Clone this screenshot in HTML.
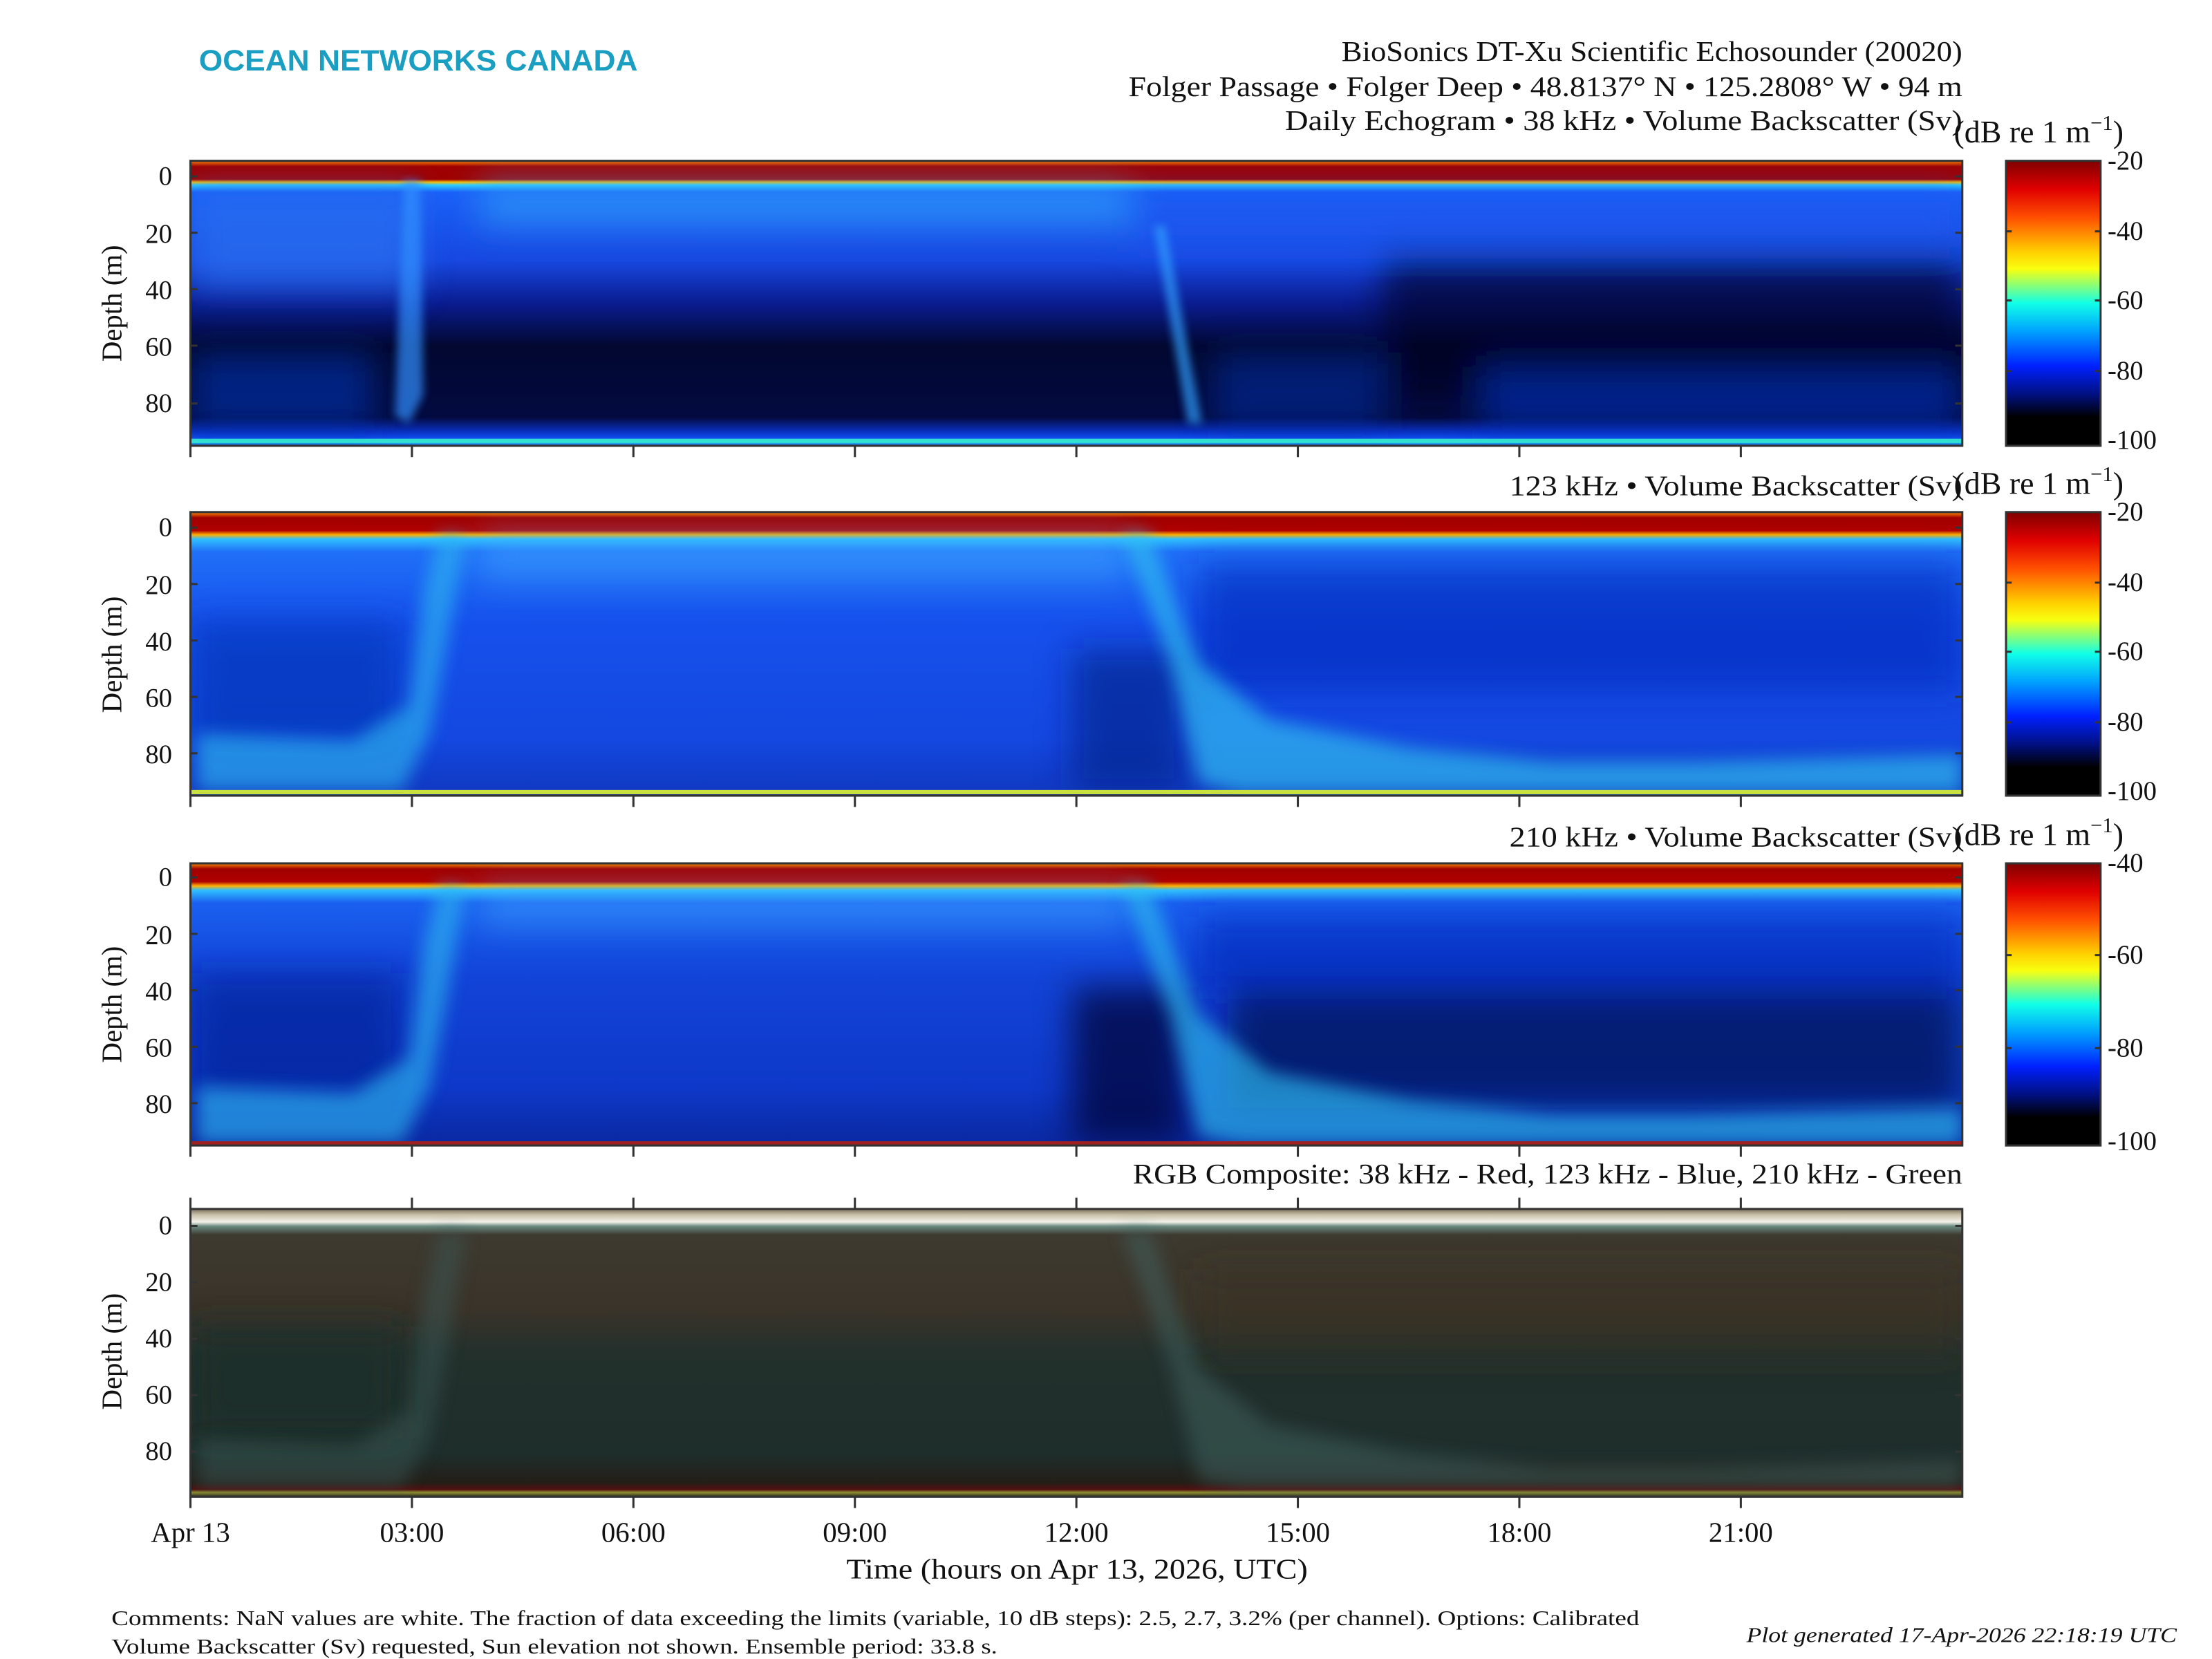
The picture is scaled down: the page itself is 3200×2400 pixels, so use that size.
<!DOCTYPE html>
<html><head><meta charset="utf-8"><style>
html,body{margin:0;padding:0;background:#fff;}
svg{display:block;}
text{font-family:"Liberation Serif",serif;fill:#111;}
</style></head><body>
<svg width="3200" height="2400" viewBox="0 0 1568 1176" xmlns="http://www.w3.org/2000/svg">
<defs>
<filter id="b6" x="-20%" y="-20%" width="140%" height="140%"><feGaussianBlur stdDeviation="6"/></filter>
<filter id="b3" x="-20%" y="-20%" width="140%" height="140%"><feGaussianBlur stdDeviation="3"/></filter>
<filter id="b12" x="-20%" y="-20%" width="140%" height="140%"><feGaussianBlur stdDeviation="12"/></filter>
<linearGradient id="jet" x1="0" y1="0" x2="0" y2="1">
<stop offset="0" stop-color="#800000"/><stop offset="0.1" stop-color="#e00000"/><stop offset="0.2" stop-color="#ff5000"/>
<stop offset="0.32" stop-color="#ffd000"/><stop offset="0.38" stop-color="#f8ff10"/><stop offset="0.5" stop-color="#10ffe8"/>
<stop offset="0.6" stop-color="#00a0ff"/><stop offset="0.72" stop-color="#0020ff"/><stop offset="0.82" stop-color="#001080"/>
<stop offset="0.9" stop-color="#000000"/><stop offset="1" stop-color="#000000"/></linearGradient>
<linearGradient id="g1" x1="0" y1="0" x2="0" y2="1">
<stop offset="0" stop-color="#ff8000"/><stop offset="0.02" stop-color="#a00000"/><stop offset="0.065" stop-color="#a00000"/>
<stop offset="0.075" stop-color="#ffc000"/><stop offset="0.085" stop-color="#30d0ff"/><stop offset="0.11" stop-color="#1a60f8"/>
<stop offset="0.35" stop-color="#1848e0"/><stop offset="0.5" stop-color="#0a1c90"/><stop offset="0.65" stop-color="#020830"/>
<stop offset="0.9" stop-color="#030a40"/><stop offset="0.95" stop-color="#0a30c0"/><stop offset="0.975" stop-color="#1050f0"/><stop offset="0.985" stop-color="#30e0e0"/><stop offset="1" stop-color="#1050f0"/></linearGradient>
<linearGradient id="g2" x1="0" y1="0" x2="0" y2="1">
<stop offset="0" stop-color="#ff9000"/><stop offset="0.02" stop-color="#a00000"/><stop offset="0.065" stop-color="#b00000"/>
<stop offset="0.08" stop-color="#ffb000"/><stop offset="0.095" stop-color="#30c0ff"/><stop offset="0.14" stop-color="#2070f8"/>
<stop offset="0.4" stop-color="#1650ec"/><stop offset="0.8" stop-color="#1448e0"/><stop offset="1" stop-color="#1038c0"/></linearGradient>
<linearGradient id="g3" x1="0" y1="0" x2="0" y2="1">
<stop offset="0" stop-color="#ff9000"/><stop offset="0.02" stop-color="#a00000"/><stop offset="0.065" stop-color="#b00000"/>
<stop offset="0.08" stop-color="#ffb000"/><stop offset="0.095" stop-color="#30c0ff"/><stop offset="0.14" stop-color="#1a60f0"/>
<stop offset="0.4" stop-color="#1244d8"/><stop offset="0.8" stop-color="#0e38c8"/><stop offset="1" stop-color="#0a28a0"/></linearGradient>
<linearGradient id="g4" x1="0" y1="0" x2="0" y2="1">
<stop offset="0" stop-color="#7a6e5a"/><stop offset="0.02" stop-color="#c8c0a8"/><stop offset="0.045" stop-color="#f4f2ea"/><stop offset="0.06" stop-color="#6a8a80"/>
<stop offset="0.09" stop-color="#3e3a30"/><stop offset="0.35" stop-color="#3a3329"/><stop offset="0.5" stop-color="#23302c"/>
<stop offset="0.85" stop-color="#1e2e2b"/><stop offset="0.95" stop-color="#241e18"/><stop offset="0.975" stop-color="#501010"/><stop offset="0.985" stop-color="#909030"/><stop offset="1" stop-color="#2a2a20"/></linearGradient>
<clipPath id="c1"><rect x="135" y="114" width="1256" height="202"/></clipPath>
<clipPath id="c2"><rect x="135" y="363" width="1256" height="201"/></clipPath>
<clipPath id="c3"><rect x="135" y="612" width="1256" height="200"/></clipPath>
<clipPath id="c4"><rect x="135" y="857" width="1256" height="204"/></clipPath>
</defs>

<text x="141" y="50" textLength="311" lengthAdjust="spacingAndGlyphs" style="font-family:'Liberation Sans',sans-serif;font-weight:bold;font-size:21px;fill:#1a9ec2">OCEAN NETWORKS CANADA</text>
<text x="951" y="43" textLength="440" lengthAdjust="spacingAndGlyphs" font-size="20">BioSonics DT-Xu Scientific Echosounder (20020)</text>
<text x="800" y="68" textLength="591" lengthAdjust="spacingAndGlyphs" font-size="20">Folger Passage • Folger Deep • 48.8137° N • 125.2808° W • 94 m</text>
<text x="911" y="92" textLength="480" lengthAdjust="spacingAndGlyphs" font-size="20">Daily Echogram • 38 kHz • Volume Backscatter (Sv)</text>
<text x="1385" y="101" font-size="22.5">(dB re 1 m<tspan font-size="15" dy="-9">−1</tspan><tspan dy="9">)</tspan></text>
<text x="1070" y="351" textLength="321" lengthAdjust="spacingAndGlyphs" font-size="20">123 kHz • Volume Backscatter (Sv)</text>
<text x="1385" y="350" font-size="22.5">(dB re 1 m<tspan font-size="15" dy="-9">−1</tspan><tspan dy="9">)</tspan></text>
<text x="1070" y="600" textLength="321" lengthAdjust="spacingAndGlyphs" font-size="20">210 kHz • Volume Backscatter (Sv)</text>
<text x="1385" y="599" font-size="22.5">(dB re 1 m<tspan font-size="15" dy="-9">−1</tspan><tspan dy="9">)</tspan></text>
<text x="803" y="839" textLength="588" lengthAdjust="spacingAndGlyphs" font-size="20">RGB Composite: 38 kHz - Red, 123 kHz - Blue, 210 kHz - Green</text>

<g clip-path="url(#c1)">
<rect x="135" y="114" width="1256" height="202" fill="url(#g1)"/>
<g filter="url(#b12)">
<rect x="135" y="135" width="160" height="70" fill="#2a70f0" opacity="0.7"/>
<rect x="340" y="130" width="460" height="30" fill="#30a8f8" opacity="0.6"/>
<rect x="800" y="135" width="590" height="40" fill="#1a58f0" opacity="0.6"/>
<rect x="980" y="180" width="411" height="100" fill="#020620" opacity="0.6"/>
<rect x="1050" y="260" width="340" height="45" fill="#0a30c0" opacity="0.6"/>
<rect x="135" y="250" width="130" height="55" fill="#0a30b0" opacity="0.6"/>
<rect x="860" y="250" width="120" height="55" fill="#0a30b0" opacity="0.5"/>
</g>
<g filter="url(#b3)" opacity="0.7">
<polygon points="286,128 298,128 300,280 290,300 280,295" fill="#3090ff"/>
<polygon points="818,160 826,160 852,300 842,300" fill="#30a0ff"/>
</g>
<rect x="135" y="311" width="1256" height="3" fill="#30e0d0"/>
</g>
<rect x="135" y="114" width="1256" height="202" fill="none" stroke="#333" stroke-width="1.5"/>

<g clip-path="url(#c2)">
<rect x="135" y="363" width="1256" height="201" fill="url(#g2)"/>
<g filter="url(#b12)">
<rect x="135" y="440" width="150" height="90" fill="#0a30b0" opacity="0.6"/>
<rect x="850" y="400" width="541" height="90" fill="#0a2ab8" opacity="0.6"/>
<rect x="760" y="460" width="80" height="100" fill="#061a80" opacity="0.6"/>
<rect x="340" y="380" width="460" height="30" fill="#40b0ff" opacity="0.5"/>
</g>
<g filter="url(#b6)" opacity="0.9">
<polygon points="140,520 250,525 290,500 300,420 312,378 330,380 318,450 305,520 285,560 140,560" fill="#30b8f0" opacity="0.7"/>
<polygon points="795,378 815,378 850,470 900,510 1000,530 1100,540 1200,540 1391,535 1391,562 880,562 850,555 830,470" fill="#30c0f0" opacity="0.75"/>
</g>
<rect x="135" y="560" width="1256" height="3" fill="#c8e040"/>
</g>
<rect x="135" y="363" width="1256" height="201" fill="none" stroke="#333" stroke-width="1.5"/>

<g clip-path="url(#c3)">
<rect x="135" y="612" width="1256" height="200" fill="url(#g3)"/>
<g filter="url(#b12)">
<rect x="135" y="690" width="150" height="90" fill="#061c90" opacity="0.6"/>
<rect x="850" y="650" width="541" height="50" fill="#0828b8" opacity="0.6"/>
<rect x="870" y="700" width="520" height="85" fill="#030e50" opacity="0.7"/>
<rect x="760" y="700" width="80" height="110" fill="#020830" opacity="0.7"/>
<rect x="340" y="630" width="460" height="25" fill="#40b0ff" opacity="0.5"/>
</g>
<g filter="url(#b6)" opacity="0.9">
<polygon points="140,770 250,775 290,750 300,670 312,627 330,629 318,700 305,770 285,810 140,810" fill="#30b8f0" opacity="0.7"/>
<polygon points="795,627 815,627 850,720 900,760 1000,780 1100,790 1200,790 1391,785 1391,811 880,811 850,805 830,720" fill="#30c0f0" opacity="0.7"/>
</g>
<rect x="135" y="809" width="1256" height="3" fill="#a02020"/>
</g>
<rect x="135" y="612" width="1256" height="200" fill="none" stroke="#333" stroke-width="1.5"/>

<g clip-path="url(#c4)">
<rect x="135" y="857" width="1256" height="204" fill="url(#g4)"/>
<g filter="url(#b12)">
<rect x="135" y="940" width="150" height="80" fill="#1a2c28" opacity="0.7"/>
<rect x="850" y="900" width="541" height="60" fill="#3a3226" opacity="0.5"/>
</g>
<g filter="url(#b6)" opacity="0.8">
<polygon points="140,1020 250,1025 290,1000 300,920 312,872 330,874 318,950 305,1020 285,1055 140,1055" fill="#3a5a58" opacity="0.6"/>
<polygon points="795,872 815,872 850,970 900,1010 1000,1030 1100,1040 1200,1040 1391,1035 1391,1055 880,1055 850,1050 830,970" fill="#406462" opacity="0.65"/>
</g>
</g>
<rect x="135" y="857" width="1256" height="204" fill="none" stroke="#333" stroke-width="1.5"/>

<g font-size="19" text-anchor="end">
<text x="122" y="131">0</text><text x="122" y="172">20</text><text x="122" y="212">40</text><text x="122" y="252">60</text><text x="122" y="292">80</text>
<text x="122" y="380">0</text><text x="122" y="421">20</text><text x="122" y="461">40</text><text x="122" y="501">60</text><text x="122" y="541">80</text>
<text x="122" y="628">0</text><text x="122" y="669">20</text><text x="122" y="709">40</text><text x="122" y="749">60</text><text x="122" y="789">80</text>
<text x="122" y="875">0</text><text x="122" y="915">20</text><text x="122" y="955">40</text><text x="122" y="995">60</text><text x="122" y="1035">80</text>
</g>
<g font-size="20" text-anchor="middle">
<text transform="translate(86,215) rotate(-90)">Depth (m)</text>
<text transform="translate(86,464) rotate(-90)">Depth (m)</text>
<text transform="translate(86,712) rotate(-90)">Depth (m)</text>
<text transform="translate(86,958) rotate(-90)">Depth (m)</text>
</g>
<g stroke="#333" stroke-width="1.5">
<path d="M135 125h5M135 165h5M135 205h5M135 245h5M135 286h5M1391 125h-5M1391 165h-5M1391 205h-5M1391 245h-5M1391 286h-5"/>
<path d="M135 374h5M135 414h5M135 454h5M135 494h5M135 534h5M1391 374h-5M1391 414h-5M1391 454h-5M1391 494h-5M1391 534h-5"/>
<path d="M135 622h5M135 662h5M135 702h5M135 742h5M135 782h5M1391 622h-5M1391 662h-5M1391 702h-5M1391 742h-5M1391 782h-5"/>
<path d="M135 869h5M135 909h5M135 949h5M135 989h5M135 1029h5M1391 869h-5M1391 909h-5M1391 949h-5M1391 989h-5M1391 1029h-5"/>
<path d="M135 316v8M292 316v8M449 316v8M606 316v8M763 316v8M920 316v8M1077 316v8M1234 316v8"/>
<path d="M135 564v8M292 564v8M449 564v8M606 564v8M763 564v8M920 564v8M1077 564v8M1234 564v8"/>
<path d="M135 812v8M292 812v8M449 812v8M606 812v8M763 812v8M920 812v8M1077 812v8M1234 812v8"/>
<path d="M135 849v8M292 849v8M449 849v8M606 849v8M763 849v8M920 849v8M1077 849v8M1234 849v8"/>
<path d="M135 1061v8M292 1061v8M449 1061v8M606 1061v8M763 1061v8M920 1061v8M1077 1061v8M1234 1061v8"/>
</g>
<g font-size="20" text-anchor="middle">
<text x="135" y="1093">Apr 13</text><text x="292" y="1093">03:00</text><text x="449" y="1093">06:00</text><text x="606" y="1093">09:00</text>
<text x="763" y="1093">12:00</text><text x="920" y="1093">15:00</text><text x="1077" y="1093">18:00</text><text x="1234" y="1093">21:00</text>
</g>
<text x="600" y="1119" textLength="327" lengthAdjust="spacingAndGlyphs" font-size="20">Time (hours on Apr 13, 2026, UTC)</text>

<g stroke="#333" stroke-width="1.5">
<rect x="1422" y="114" width="67" height="202" fill="url(#jet)"/>
<rect x="1422" y="363" width="67" height="201" fill="url(#jet)"/>
<rect x="1422" y="612" width="67" height="200" fill="url(#jet)"/>
<path d="M1489 164h-4M1489 213h-4M1489 263h-4M1422 164h4M1422 213h4M1422 263h4"/>
<path d="M1489 413h-4M1489 462h-4M1489 512h-4M1422 413h4M1422 462h4M1422 512h4"/>
<path d="M1489 677h-4M1489 743h-4M1422 677h4M1422 743h4"/>
</g>
<g font-size="19">
<text x="1494" y="120">-20</text><text x="1494" y="170">-40</text><text x="1494" y="219">-60</text><text x="1494" y="269">-80</text><text x="1494" y="318">-100</text>
<text x="1494" y="369">-20</text><text x="1494" y="419">-40</text><text x="1494" y="468">-60</text><text x="1494" y="518">-80</text><text x="1494" y="567">-100</text>
<text x="1494" y="618">-40</text><text x="1494" y="683">-60</text><text x="1494" y="749">-80</text><text x="1494" y="815">-100</text>
</g>

<g font-size="15">
<text x="79" y="1152" textLength="1083" lengthAdjust="spacingAndGlyphs">Comments: NaN values are white. The fraction of data exceeding the limits (variable, 10 dB steps): 2.5, 2.7, 3.2% (per channel). Options: Calibrated</text>
<text x="79" y="1172" textLength="628" lengthAdjust="spacingAndGlyphs">Volume Backscatter (Sv) requested, Sun elevation not shown. Ensemble period: 33.8 s.</text>
<text x="1238" y="1164" textLength="305" lengthAdjust="spacingAndGlyphs" font-style="italic">Plot generated 17-Apr-2026 22:18:19 UTC</text>
</g>
</svg>
</body></html>
